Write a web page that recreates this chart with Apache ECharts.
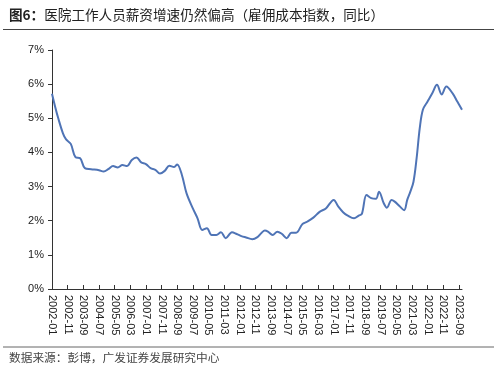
<!DOCTYPE html>
<html><head><meta charset="utf-8">
<script src="https://cdn.jsdelivr.net/npm/echarts@6/dist/echarts.min.js"></script>
<style>html,body{margin:0;padding:0;background:#fff}#c{width:500px;height:371px}</style>
</head><body><div id="c"></div>
<script>
const startYear = 2002, monthCount = 263;
const titleLead = '图6：';
const titleText = '医院工作人员薪资增速仍然偏高（雇佣成本指数，同比）';
const sourceText = '数据来源：彭博，广发证券发展研究中心';
const yTicks = [0, 1, 2, 3, 4, 5, 6, 7];
// month offsets from 2002-01 of the points
const pointMonths = [0,2,4,7,9,12,15,18,21,25,30,33,36,39,42,45,48,51,54,57,60,63,66,69,72,75,78,80,83,86,90,93,96,99,102,105,108,111,115,118,121,124,128,131,134,136,138,141,144,147,150,153,156,160,163,167,171,175,180,183,186,189,193,196,198,201,204,207,209,212,214,217,219,222,225,227,229,231,233,235,237,240,243,246,249,252,256,259,262];
const pointValues = [5.72,5.34,5.00,4.56,4.38,4.25,3.86,3.83,3.54,3.51,3.48,3.44,3.51,3.60,3.56,3.63,3.60,3.78,3.85,3.71,3.66,3.54,3.49,3.38,3.46,3.61,3.57,3.65,3.34,2.80,2.36,2.07,1.73,1.78,1.58,1.58,1.66,1.49,1.66,1.61,1.55,1.51,1.46,1.51,1.65,1.71,1.68,1.58,1.68,1.61,1.49,1.65,1.65,1.90,1.97,2.09,2.26,2.36,2.61,2.41,2.25,2.15,2.07,2.15,2.20,2.75,2.66,2.64,2.85,2.51,2.38,2.61,2.56,2.43,2.31,2.61,2.85,3.14,3.83,4.71,5.25,5.49,5.73,5.98,5.70,5.93,5.73,5.49,5.25];

const categories = [];
for (let i = 0; i < monthCount; i++) {
  const y = startYear + Math.floor(i / 12), m = i % 12 + 1;
  categories.push(y + '-' + (m < 10 ? '0' + m : m));
}
const seriesData = pointMonths.map((mo, i) => [categories[mo], pointValues[i]]);

const chart = echarts.init(document.getElementById('c'));
chart.setOption({
  animation: false,
  grid: { left: 52, right: 38, top: 50, bottom: 82, containLabel: false },
  xAxis: {
    type: 'category', data: categories, boundaryGap: false,
    axisLine: { lineStyle: { color: '#333', width: 1 } },
    axisTick: { show: true, inside: true, length: 4, interval: 9, lineStyle: { color: '#333' } },
    axisLabel: { interval: 9, rotate: -90, fontSize: 11, color: '#222', fontFamily: 'Liberation Sans, Arial', margin: 6 },
    splitLine: { show: false }
  },
  yAxis: {
    type: 'value', min: yTicks[0], max: yTicks[yTicks.length - 1], interval: 1,
    axisLine: { show: true, lineStyle: { color: '#333', width: 1 } },
    axisTick: { show: true, inside: false, length: 4, lineStyle: { color: '#333' } },
    axisLabel: { formatter: '{value}%', fontSize: 11, color: '#222', fontFamily: 'Liberation Sans, Arial', margin: 8 },
    splitLine: { show: false }
  },
  series: [{
    type: 'line', data: seriesData, smooth: 0.35, symbol: 'none',
    lineStyle: { color: '#4F74B6', width: 2 }
  }],
  graphic: [
    { type: 'text', left: 9, top: 8, style: {
        text: '{a|' + titleLead + '}{b|' + titleText + '}',
        rich: {
          a: { fontSize: 13.6, fontWeight: 'bold', fill: '#222', fontFamily: 'Noto Sans CJK SC' },
          b: { fontSize: 13.6, fontWeight: 'normal', fill: '#222', fontFamily: 'Noto Sans CJK SC' }
        } } },
    { type: 'line', shape: { x1: 3, y1: 29.5, x2: 494, y2: 29.5 }, style: { stroke: '#444', lineWidth: 1 } },
    { type: 'line', shape: { x1: 3, y1: 347, x2: 494, y2: 347 }, style: { stroke: '#666', lineWidth: 1 } },
    { type: 'text', left: 9, top: 352, style: { text: sourceText, fontSize: 11.7, fill: '#444', fontFamily: 'Noto Sans CJK SC' } }
  ]
});
</script></body></html>
